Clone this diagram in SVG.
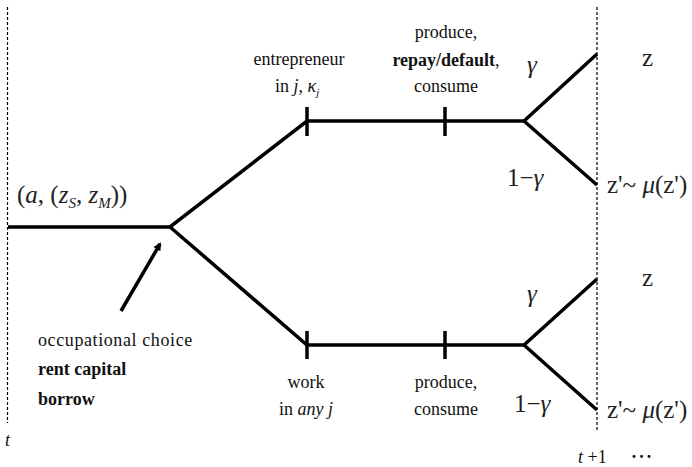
<svg xmlns="http://www.w3.org/2000/svg" width="692" height="467" viewBox="0 0 692 467">
<style>
.br{fill:none;stroke:#000;stroke-width:3.5;stroke-linecap:butt;stroke-linejoin:miter}
.dash{fill:none;stroke:#000;stroke-width:1.2;stroke-dasharray:3 2}
.t{font-family:"Liberation Serif","Times New Roman",serif;font-size:18px;fill:#111}
.m{font-family:"Liberation Serif","Times New Roman",serif;font-size:25px;fill:#222}
.i{font-style:italic}
.b{font-weight:bold}
.c{text-anchor:middle}
</style>
<defs>
<marker id="ah" markerWidth="8" markerHeight="8" refX="6" refY="4" orient="auto" markerUnits="userSpaceOnUse" viewBox="0 0 8 8">
<path d="M0,0 L8,4 L0,8 z" fill="#000"/>
</marker>
</defs>
<g id="timeline">
<line class="dash" x1="7.5" y1="7" x2="7.5" y2="423"/>
<line class="dash" x1="597" y1="7" x2="597" y2="430"/>
<text class="t i" x="5" y="446" font-size="19">t</text>
<text class="t" x="578" y="463" font-size="20"><tspan class="i">t</tspan> +1</text>
<text class="t b" x="631" y="463" font-size="22" letter-spacing="1.5">···</text>
</g>
<g id="connectors">
<polyline class="br" points="8,227 170,227 307,121 524,121 597,54"/>
<line class="br" x1="524" y1="121" x2="597" y2="185"/>
<polyline class="br" points="170,227 307,345 524,345 597,279"/>
<line class="br" x1="524" y1="345" x2="597" y2="410"/>
<line class="br" x1="307" y1="107" x2="307" y2="136"/>
<line class="br" x1="445" y1="107" x2="445" y2="136"/>
<line class="br" x1="307" y1="331" x2="307" y2="359"/>
<line class="br" x1="445" y1="331" x2="445" y2="359"/>
<line class="br" x1="121" y1="311" x2="160" y2="244" marker-end="url(#ah)"/>
</g>
<g id="state">
<text class="m" x="17" y="203" font-size="25">(<tspan class="i">a</tspan>, (<tspan class="i">z</tspan><tspan class="i" font-size="15" dy="5">S</tspan><tspan dy="-5">, </tspan><tspan class="i">z</tspan><tspan class="i" font-size="15" dy="5">M</tspan><tspan dy="-5">))</tspan></text>
</g>
<g id="choice">
<text class="t" x="38" y="346" letter-spacing="0.6">occupational choice</text>
<text class="t b" x="38" y="375">rent capital</text>
<text class="t b" x="38" y="405">borrow</text>
</g>
<g id="entrepreneur">
<text class="t c" x="299" y="65">entrepreneur</text>
<text class="t" x="275" y="92">in <tspan class="i">j</tspan>, <tspan class="i">κ</tspan><tspan class="i" font-size="11" dy="4">j</tspan></text>
</g>
<g id="produce-top">
<text class="t c" x="446" y="38">produce,</text>
<text class="t c" x="446" y="66"><tspan class="b">repay/default</tspan>,</text>
<text class="t c" x="446" y="92">consume</text>
</g>
<g id="work">
<text class="t c" x="306" y="388">work</text>
<text class="t c" x="306" y="415">in <tspan class="i">any j</tspan></text>
</g>
<g id="produce-bottom">
<text class="t c" x="446" y="388">produce,</text>
<text class="t c" x="446" y="415">consume</text>
</g>
<g id="outcome-top">
<text class="m i" x="527" y="73">γ</text>
<text class="m" x="507" y="186">1−<tspan class="i">γ</tspan></text>
<text class="m" x="642" y="66" font-size="21">z</text>
<text class="m" x="607" y="193" font-size="21">z'~ <tspan class="i" font-size="25">μ</tspan>(z')</text>
</g>
<g id="outcome-bottom">
<text class="m i" x="527" y="302">γ</text>
<text class="m" x="514" y="412">1−<tspan class="i">γ</tspan></text>
<text class="m" x="642" y="286" font-size="21">z</text>
<text class="m" x="607" y="418" font-size="21">z'~ <tspan class="i" font-size="25">μ</tspan>(z')</text>
</g>
</svg>
